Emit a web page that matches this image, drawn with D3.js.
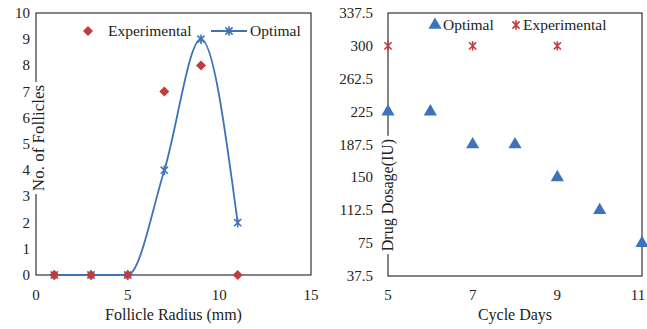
<!DOCTYPE html>
<html>
<head>
<meta charset="utf-8">
<script src="https://cdn.jsdelivr.net/npm/d3@7"></script>
<style>
  body { margin: 0; background: #fff; }
  svg text { font-family: "Liberation Serif", "Times New Roman", serif; fill: #222; }
</style>
</head>
<body>
<svg id="chart" width="647" height="329"></svg>
<script>
// left panel: follicles
var radius = [1, 3, 5, 7, 9, 11];
var experimentalFollicles = [0, 0, 0, 7, 8, 0];
var optimalFollicles = [0, 0, 0, 4, 9, 2];
var radiusTicks = [0, 5, 10, 15];
var follicleTicks = [0, 1, 2, 3, 4, 5, 6, 7, 8, 9, 10];

// right panel: dosage
var optimalDays = [5, 6, 7, 8, 9, 10, 11];
var optimalDosage = [225, 225, 187.5, 187.5, 150, 112.5, 75];
var experimentalDays = [5, 7, 9];
var experimentalDosage = [300, 300, 300];
var dayTicks = [5, 7, 9, 11];
var dosageTicks = [37.5, 75, 112.5, 150, 187.5, 225, 262.5, 300, 337.5];

var RED = "#c43b3b", BLUE = "#3e73b9";

var svg = d3.select("#chart");

function starPath(s) {
	return "M" + (-s) + "," + (-s) + "L" + s + "," + s +
		"M" + (-s) + "," + s + "L" + s + "," + (-s) +
		"M0," + (-s * 1.3) + "L0," + (s * 1.3);
}

// box round the plot, y title sits on the left spine with a white gap
function frame(g, x, y, title, titleX, titleY, titleSize) {
	var x0 = x.range()[0], x1 = x.range()[1], y0 = y.range()[0], y1 = y.range()[1];
	g.append("rect")
		.attr("x", x0).attr("y", y1)
		.attr("width", x1 - x0).attr("height", y0 - y1)
		.attr("fill", "none").attr("stroke", "#333").attr("stroke-width", 1.2);
	var t = g.append("text")
		.attr("transform", "translate(" + titleX + "," + titleY + ") rotate(-90)")
		.attr("text-anchor", "middle")
		.style("font-size", titleSize + "px")
		.text(title);
	var b = t.node().getBBox();
	g.insert("rect", "text")
		.attr("x", x0 - 3).attr("width", 6)
		.attr("y", titleY - b.width / 2 - 3)
		.attr("height", b.width + 6)
		.attr("fill", "#fff");
}

// ---- left ----
var xL = d3.scaleLinear().domain([0, 15]).range([36, 311]);
var yL = d3.scaleLinear().domain([0, 10]).range([275, 13]);
var gL = svg.append("g");
frame(gL, xL, yL, "No. of Follicles", 44, 138, 17);

gL.selectAll(".yt").data(follicleTicks).enter().append("text")
	.attr("x", 30).attr("y", function(d) { return yL(d) + 5; })
	.attr("text-anchor", "end").style("font-size", "15px")
	.text(function(d) { return d; });
gL.selectAll(".xt").data(radiusTicks).enter().append("text")
	.attr("x", function(d) { return xL(d); }).attr("y", 300)
	.attr("text-anchor", "middle").style("font-size", "15px")
	.text(function(d) { return d; });
gL.append("text").attr("x", xL(7.5)).attr("y", 320)
	.attr("text-anchor", "middle").style("font-size", "16px")
	.text("Follicle Radius (mm)");

var optPts = radius.map(function(r, i) { return [r, optimalFollicles[i]]; });
var line = d3.line()
	.x(function(d) { return xL(d[0]); })
	.y(function(d) { return yL(d[1]); })
	.curve(d3.curveMonotoneX);
gL.append("path").attr("d", line(optPts))
	.attr("fill", "none").attr("stroke", BLUE).attr("stroke-width", 1.8);
gL.selectAll(".ostar").data(optPts).enter().append("path")
	.attr("transform", function(d) { return "translate(" + xL(d[0]) + "," + yL(d[1]) + ")"; })
	.attr("d", starPath(3.6))
	.attr("stroke", BLUE).attr("stroke-width", 1.6).attr("fill", "none");
gL.selectAll(".edia").data(radius).enter().append("path")
	.attr("transform", function(d, i) { return "translate(" + xL(d) + "," + yL(experimentalFollicles[i]) + ")"; })
	.attr("d", "M0,-5L5,0L0,5L-5,0Z")
	.attr("fill", RED);

// left legend
gL.append("path").attr("transform", "translate(88,31)")
	.attr("d", "M0,-5L5,0L0,5L-5,0Z").attr("fill", RED);
gL.append("text").attr("x", 108).attr("y", 36).style("font-size", "15.5px").text("Experimental");
gL.append("line").attr("x1", 211).attr("x2", 247).attr("y1", 31).attr("y2", 31)
	.attr("stroke", BLUE).attr("stroke-width", 1.8);
gL.append("path").attr("transform", "translate(229,31)")
	.attr("d", starPath(3.6)).attr("stroke", BLUE).attr("stroke-width", 1.6);
gL.append("text").attr("x", 250).attr("y", 36).style("font-size", "15.5px").text("Optimal");

// ---- right ----
var xR = d3.scaleLinear().domain([5, 11]).range([388, 642]);
var yR = d3.scaleLinear().domain([37.5, 337.5]).range([276, 13]);
var gR = svg.append("g");
frame(gR, xR, yR, "Drug Dosage(IU)", 393, 195, 16);

gR.selectAll(".yt").data(dosageTicks).enter().append("text")
	.attr("x", 373).attr("y", function(d) { return yR(d) + 5; })
	.attr("text-anchor", "end").style("font-size", "15px")
	.text(function(d) { return d; });
gR.selectAll(".xt").data(dayTicks).enter().append("text")
	.attr("x", function(d) { return Math.min(xR(d), 638); }).attr("y", 300)
	.attr("text-anchor", "middle").style("font-size", "15px")
	.text(function(d) { return d; });
gR.append("text").attr("x", xR(8)).attr("y", 320)
	.attr("text-anchor", "middle").style("font-size", "16px")
	.text("Cycle Days");

var tri = d3.symbol().type(d3.symbolTriangle).size(75);
gR.selectAll(".otri").data(optimalDays).enter().append("path")
	.attr("transform", function(d, i) { return "translate(" + xR(d) + "," + yR(optimalDosage[i]) + ")"; })
	.attr("d", tri).attr("fill", BLUE);
gR.selectAll(".estar").data(experimentalDays).enter().append("path")
	.attr("transform", function(d, i) { return "translate(" + xR(d) + "," + yR(experimentalDosage[i]) + ")"; })
	.attr("d", starPath(3.6)).attr("stroke", RED).attr("stroke-width", 1.6);

// right legend
gR.append("path").attr("transform", "translate(435,25)").attr("d", tri).attr("fill", BLUE);
gR.append("text").attr("x", 443).attr("y", 30).style("font-size", "15.5px").text("Optimal");
gR.append("path").attr("transform", "translate(516,25)")
	.attr("d", starPath(3.6)).attr("stroke", RED).attr("stroke-width", 1.6);
gR.append("text").attr("x", 523).attr("y", 30).style("font-size", "15.5px").text("Experimental");
</script>
</body>
</html>
